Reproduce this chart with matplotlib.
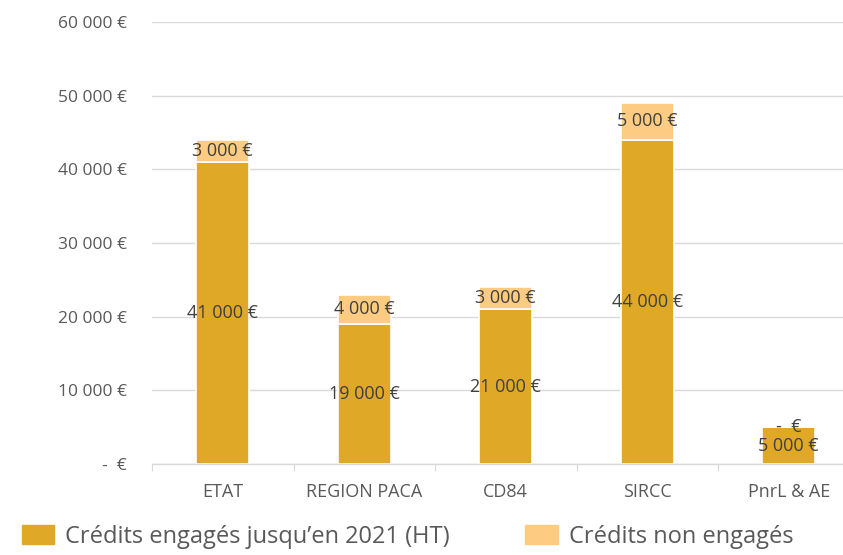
import matplotlib
matplotlib.use("Agg")
import matplotlib.pyplot as plt
from matplotlib.patches import Patch

categories = ["ETAT", "REGION PACA", "CD84", "SIRCC", "PnrL & AE"]
engages = [41000, 19000, 21000, 44000, 5000]
non_engages = [3000, 4000, 3000, 5000, 0]
yticks = [0, 10000, 20000, 30000, 40000, 50000, 60000]

DARK = "#DFA827"
LIGHT = "#FDCC82"
TXT = "#404040"
TICK = "#595959"

plt.rcParams["font.family"] = ["Open Sans", "DejaVu Sans"]


def euro(v):
    if v == 0:
        return "-  €"
    return f"{v:,.0f} €".replace(",", " ")


fig = plt.figure(figsize=(8.43, 5.55), dpi=100)
ax = fig.add_axes([152 / 843, 91 / 555, 1 - 152 / 843, (464 - 22) / 555])

x = list(range(len(categories)))
w = 0.375
ax.bar(x, engages, width=w, color=DARK, edgecolor="white", linewidth=1.2, zorder=2)
ax.bar(x, non_engages, width=w, bottom=engages, color=LIGHT,
       edgecolor="white", linewidth=1.2, zorder=2)

for i in x:
    ax.text(i, engages[i] / 2, euro(engages[i]), ha="center", va="center",
            fontsize=13, color=TXT, zorder=3)
    ax.text(i, engages[i] + non_engages[i] / 2, euro(non_engages[i]),
            ha="center", va="center", fontsize=13, color=TXT, zorder=3)

ax.set_yticks(yticks)
ax.set_yticklabels([euro(v) for v in yticks], color=TICK, fontsize=12.5)
ax.yaxis.grid(True, color="#D9D9D9", linewidth=1, zorder=0)
ax.set_axisbelow(True)
ax.tick_params(axis="y", length=0, pad=18)

ax.set_xticks([i + 0.5 for i in range(-1, 5)], minor=False)
ax.set_xticklabels([""] * 6)
ax.tick_params(axis="x", which="major", length=5, color="#D9D9D9", direction="out")
ax.set_xticks(x, minor=True)
ax.set_xticklabels(categories, minor=True, color=TICK, fontsize=13)
ax.tick_params(axis="x", which="minor", length=0, pad=14)

# limits after the ticks, otherwise set_xticks widens them
ax.set_ylim(0, 60000)
ax.set_xlim(-0.5, 4.5 - 16.5 / 141.5)

for s in ["top", "right", "left"]:
    ax.spines[s].set_visible(False)
ax.spines["bottom"].set_color("#D9D9D9")
ax.spines["bottom"].set_linewidth(1)

handles = [Patch(color=DARK, label="Crédits engagés jusqu’en 2021 (HT)"),
           Patch(color=LIGHT, label="Crédits non engagés")]
fig.legend(handles=handles, loc="center left", bbox_to_anchor=(22 / 843, 18 / 555),
           ncol=2, frameon=False, fontsize=17, labelcolor=TICK,
           borderpad=0, borderaxespad=0,
           handlelength=1.36, handleheight=0.85, columnspacing=3.2,
           handletextpad=0.47)

fig.savefig("out.png", dpi=100)
plt.close(fig)
